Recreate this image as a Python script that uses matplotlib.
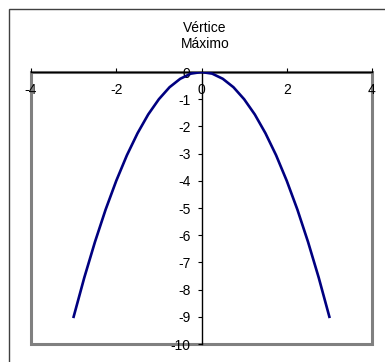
import matplotlib
matplotlib.use("Agg")
import matplotlib.pyplot as plt
from matplotlib.patches import Rectangle

plt.rcParams['font.family'] = ['Liberation Sans', 'DejaVu Sans']

# curve points
x_vals = [-3.0, -2.75, -2.5, -2.25, -2.0, -1.75, -1.5, -1.25, -1.0, -0.75, -0.5, -0.25, 0.0,
          0.25, 0.5, 0.75, 1.0, 1.25, 1.5, 1.75, 2.0, 2.25, 2.5, 2.75, 3.0]
y_vals = [-9.0, -7.56, -6.25, -5.06, -4.0, -3.06, -2.25, -1.56, -1.0, -0.56, -0.25, -0.06, 0.0,
          -0.06, -0.25, -0.56, -1.0, -1.56, -2.25, -3.06, -4.0, -5.06, -6.25, -7.56, -9.0]
x_ticks = [-4, -2, 0, 2, 4]
y_ticks = [0, -1, -2, -3, -4, -5, -6, -7, -8, -9, -10]
title_lines = ["Vértice", "Máximo"]

fig = plt.figure(figsize=(3.85, 3.62), dpi=100)

# outer chart border (right/bottom fall outside the image)
fig.patches.append(Rectangle((9 / 385, -0.5), 2.0, 1.5 - 9 / 362, transform=fig.transFigure,
                             fill=False, edgecolor='#404040', linewidth=1.0))

ax = fig.add_axes([31 / 385, 1 - 344 / 362, (372 - 31) / 385, (344 - 72) / 362])
ax.set_xlim(-4, 4)
ax.set_ylim(-10, 0)

# gray plot area frame
ax.add_patch(Rectangle((0, 0), 1, 1, transform=ax.transAxes, fill=False,
                       edgecolor='#808080', linewidth=2.2, zorder=1, clip_on=False))

ax.plot(x_vals, y_vals, color='#000080', linewidth=1.9, zorder=3)

for s in ['top', 'right']:
    ax.spines[s].set_visible(False)
ax.spines['left'].set_position(('data', 0))
ax.spines['bottom'].set_position(('data', 0))
ax.spines['left'].set_zorder(2)
ax.spines['bottom'].set_zorder(2)
ax.spines['left'].set_linewidth(1.0)
ax.spines['bottom'].set_linewidth(1.0)

ax.set_xticks(x_ticks)
ax.set_yticks(y_ticks)
ax.set_xticklabels([str(t) for t in x_ticks])
ax.set_yticklabels([str(t) for t in y_ticks])
ax.tick_params(axis='x', direction='in', length=3, pad=8, labelsize=10)
ax.tick_params(axis='y', direction='out', length=3, pad=5, labelsize=10)

fig.text(205 / 385, 1 - 28 / 362, title_lines[0], ha='center', va='center', fontsize=10)
fig.text(205 / 385, 1 - 44 / 362, title_lines[1], ha='center', va='center', fontsize=10)

fig.savefig('out.png', dpi=100)
